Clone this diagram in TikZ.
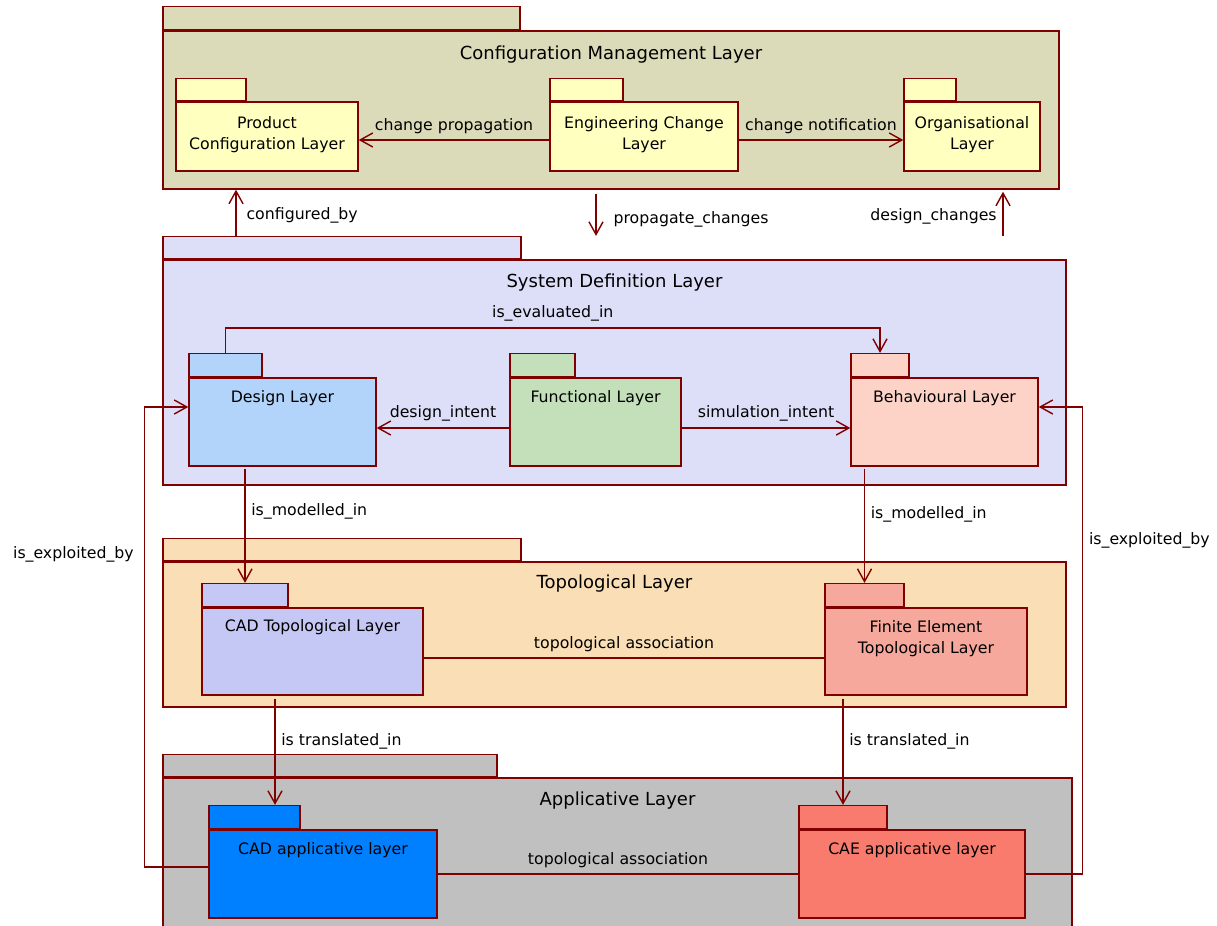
\documentclass[tikz,border=0pt]{standalone}
\usepackage{fontspec}
\setmainfont{DejaVu Sans}
\usetikzlibrary{arrows.meta,positioning}

\definecolor{edgered}{RGB}{128,0,0}
\definecolor{cmlfill}{RGB}{220,219,185}
\definecolor{yelfill}{RGB}{255,255,192}
\definecolor{sdlfill}{RGB}{221,222,248}
\definecolor{dlfill}{RGB}{179,212,250}
\definecolor{flfill}{RGB}{195,224,187}
\definecolor{blfill}{RGB}{253,211,200}
\definecolor{tlfill}{RGB}{250,222,182}
\definecolor{cadtfill}{RGB}{197,200,245}
\definecolor{fetfill}{RGB}{247,168,157}
\definecolor{alfill}{RGB}{192,192,192}
\definecolor{cadafill}{RGB}{0,128,255}
\definecolor{caeafill}{RGB}{248,123,110}

\newcommand{\pxu}{0.025cm}

\tikzset{
  dims/.style 2 args={minimum width=#1*\pxu, minimum height=#2*\pxu},
  pkg/.style={draw=edgered, line width=1pt, inner sep=0pt},
  dep/.style={draw=edgered, line width=1pt, -{Straight Barb[length=9pt,width=10pt]}},
  assoc/.style={draw=edgered, line width=1pt},
  txt/.style={inner sep=0pt, font=\fontsize{11.2}{15}\selectfont, align=center},
  ttl/.style={inner sep=0pt, font=\fontsize{12.8}{15}\selectfont},
  lbl/.style={font=\fontsize{11.2}{13}\selectfont, inner sep=4pt},
}

\begin{document}
\begin{tikzpicture}[x=\pxu, y=-\pxu]
  \useasboundingbox (0,0) rectangle (1217,926);

  % Configuration Management Layer
  \node[pkg, fill=cmlfill, dims={896}{158}] (cml) at (611,110) {};
  \node[pkg, fill=cmlfill, dims={357}{23}, anchor=south west] (cmlTab) at (cml.north west) {};
  \node[ttl] (cmlTitle) at ([yshift=-24*\pxu]cml.north) {Configuration Management Layer};

  \node[pkg, fill=yelfill, dims={182}{69}] (pcl) at (267,136.5) {};
  \node[pkg, fill=yelfill, dims={70}{22}, anchor=south west] (pclTab) at (pcl.north west) {};
  \node[txt] (pclText) at ([yshift=-33*\pxu]pcl.north) {Product\\Configuration Layer};

  \node[pkg, fill=yelfill, dims={188}{69}] (ecl) at (644,136.5) {};
  \node[pkg, fill=yelfill, dims={73}{22}, anchor=south west] (eclTab) at (ecl.north west) {};
  \node[txt] (eclText) at ([yshift=-33*\pxu]ecl.north) {Engineering Change\\Layer};

  \node[pkg, fill=yelfill, dims={136}{69}] (ol) at (972,136.5) {};
  \node[pkg, fill=yelfill, dims={52}{22}, anchor=south west] (olTab) at (ol.north west) {};
  \node[txt] (olText) at ([yshift=-33*\pxu]ol.north) {Organisational\\Layer};

  % System Definition Layer
  \node[pkg, fill=sdlfill, dims={903}{225}] (sdl) at (614.5,372.5) {};
  \node[pkg, fill=sdlfill, dims={358}{22}, anchor=south west] (sdlTab) at (sdl.north west) {};
  \node[ttl] (sdlTitle) at ([yshift=-23*\pxu]sdl.north) {System Definition Layer};

  \node[pkg, fill=dlfill, dims={187}{88}] (dl) at (282.5,422) {};
  \node[pkg, fill=dlfill, dims={73}{23}, anchor=south west] (dlTab) at (dl.north west) {};
  \node[txt] (dlText) at ([yshift=-21*\pxu]dl.north) {Design Layer};

  \node[pkg, fill=flfill, dims={171}{88}] (fl) at (595.5,422) {};
  \node[pkg, fill=flfill, dims={65}{23}, anchor=south west] (flTab) at (fl.north west) {};
  \node[txt] (flText) at ([yshift=-21*\pxu]fl.north) {Functional Layer};

  \node[pkg, fill=blfill, dims={187}{88}] (bl) at (944.5,422) {};
  \node[pkg, fill=blfill, dims={58}{23}, anchor=south west] (blTab) at (bl.north west) {};
  \node[txt] (blText) at ([yshift=-21*\pxu]bl.north) {Behavioural Layer};

  % Topological Layer
  \node[pkg, fill=tlfill, dims={903}{145}] (tl) at (614.5,634.5) {};
  \node[pkg, fill=tlfill, dims={358}{22}, anchor=south west] (tlTab) at (tl.north west) {};
  \node[ttl] (tlTitle) at ([yshift=-22*\pxu]tl.north) {Topological Layer};

  \node[pkg, fill=cadtfill, dims={221}{87}] (cadt) at (312.5,651.5) {};
  \node[pkg, fill=cadtfill, dims={86}{23}, anchor=south west] (cadtTab) at (cadt.north west) {};
  \node[txt] (cadtText) at ([yshift=-20*\pxu]cadt.north) {CAD Topological Layer};

  \node[pkg, fill=fetfill, dims={202}{87}] (fet) at (926,651.5) {};
  \node[pkg, fill=fetfill, dims={79}{23}, anchor=south west] (fetTab) at (fet.north west) {};
  \node[txt] (fetText) at ([yshift=-31*\pxu]fet.north) {Finite Element\\Topological Layer};

  % Applicative Layer
  \node[pkg, fill=alfill, dims={909}{157}] (al) at (617.5,856.5) {};
  \node[pkg, fill=alfill, dims={334}{22}, anchor=south west] (alTab) at (al.north west) {};
  \node[ttl] (alTitle) at ([yshift=-23*\pxu]al.north) {Applicative Layer};

  \node[pkg, fill=cadafill, dims={228}{88}] (cada) at (323,874) {};
  \node[pkg, fill=cadafill, dims={91}{23}, anchor=south west] (cadaTab) at (cada.north west) {};
  \node[txt] (cadaText) at ([yshift=-21*\pxu]cada.north) {CAD applicative layer};

  \node[pkg, fill=caeafill, dims={226}{88}] (caea) at (912,874) {};
  \node[pkg, fill=caeafill, dims={88}{23}, anchor=south west] (caeaTab) at (caea.north west) {};
  \node[txt] (caeaText) at ([yshift=-21*\pxu]caea.north) {CAE applicative layer};

  % dependencies
  \draw[dep] ([yshift=-3.5*\pxu]ecl.west) -- node[lbl, above] {change propagation} ([yshift=-3.5*\pxu]pcl.east);
  \draw[dep] ([yshift=-3.5*\pxu]ecl.east) -- node[lbl, above] {change notification} ([yshift=-3.5*\pxu]ol.west);

  \draw[dep] ([xshift=-106*\pxu]sdlTab.north) -- node[lbl, right, pos=0.45, xshift=3pt] {configured\_by} ([xshift=-106*\pxu]sdlTab.north |- cml.south);
  \draw[dep] ([xshift=-15*\pxu, yshift=-4*\pxu]cml.south) -- node[lbl, right, pos=0.6, xshift=8pt] {propagate\_changes} ([xshift=-15*\pxu]cml.south |- sdlTab.north);
  \draw[dep] ([xshift=392*\pxu]cml.south |- sdlTab.north) -- node[lbl, left, pos=0.45] {design\_changes} ([xshift=392*\pxu, yshift=-2*\pxu]cml.south);

  \draw[dep] (dlTab.north) -- ++(0,-25) -| node[lbl, above, pos=0.25] {is\_evaluated\_in} (blTab.north);
  \draw[dep] ([yshift=-6*\pxu]fl.west) -- node[lbl, above] {design\_intent} ([yshift=-6*\pxu]dl.east);
  \draw[dep] ([yshift=-6*\pxu]fl.east) -- node[lbl, above] {simulation\_intent} ([yshift=-6*\pxu]bl.west);

  \draw[dep] ([yshift=-2*\pxu]dl.south -| cadtTab.north) -- node[lbl, right, pos=0.37] {is\_modelled\_in} (cadtTab.north);
  \draw[dep] ([yshift=-2*\pxu]bl.south -| fetTab.north) -- node[lbl, right, pos=0.4] {is\_modelled\_in} (fetTab.north);

  \draw[assoc] ([yshift=-6.5*\pxu]cadt.east) -- node[lbl, above] {topological association} ([yshift=-6.5*\pxu]fet.west);
  \draw[assoc] (cada.east) -- node[lbl, above] {topological association} (caea.west);

  \draw[dep] ([xshift=-37.5*\pxu, yshift=-3*\pxu]cadt.south) -- node[lbl, right, pos=0.4] {is translated\_in} ([xshift=-37.5*\pxu]cadt.south |- cadaTab.north);
  \draw[dep] ([yshift=-3*\pxu]fet.south -| caeaTab.north) -- node[lbl, right, pos=0.4] {is translated\_in} (caeaTab.north);

  \draw[dep] ([yshift=7*\pxu]cada.west) -- ++(-64,0) |- node[lbl, left, pos=0.34, xshift=-3pt] {is\_exploited\_by} ([yshift=15*\pxu]dl.west);
  \draw[dep] (caea.east) -- ++(57,0) |- node[lbl, right, pos=0.357] {is\_exploited\_by} ([yshift=15*\pxu]bl.east);
\end{tikzpicture}
\end{document}
